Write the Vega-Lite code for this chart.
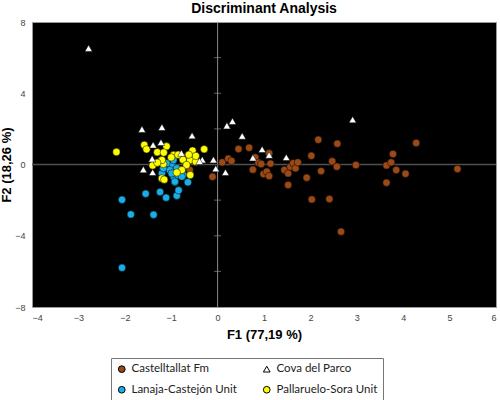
{
  "$schema": "https://vega.github.io/schema/vega-lite/v6.json",
  "width": 464,
  "height": 285,
  "autosize": {"type": "none"},
  "padding": {"left": 32, "top": 22, "right": 4, "bottom": 93},
  "background": "white",
  "title": {"text": "Discriminant Analysis", "font": "Liberation Sans", "fontSize": 14, "fontWeight": "bold", "color": "#000", "offset": 6, "dy": 4, "anchor": "middle"},
  "config": {"view": {"fill": "black", "stroke": "#999"}},
  "datasets": {
    "pts": [
      {"g": "Castelltallat Fm", "x": -0.11, "y": -0.69},
      {"g": "Castelltallat Fm", "x": 0.10, "y": 0.12},
      {"g": "Castelltallat Fm", "x": 0.23, "y": 0.33},
      {"g": "Castelltallat Fm", "x": 0.30, "y": 0.20},
      {"g": "Castelltallat Fm", "x": 0.45, "y": 0.87},
      {"g": "Castelltallat Fm", "x": 0.68, "y": 0.94},
      {"g": "Castelltallat Fm", "x": 0.76, "y": -0.29},
      {"g": "Castelltallat Fm", "x": 0.81, "y": 0.40},
      {"g": "Castelltallat Fm", "x": 0.88, "y": 0.10},
      {"g": "Castelltallat Fm", "x": 0.94, "y": 0.03},
      {"g": "Castelltallat Fm", "x": 0.99, "y": -0.53},
      {"g": "Castelltallat Fm", "x": 1.06, "y": -0.40},
      {"g": "Castelltallat Fm", "x": 1.11, "y": -0.65},
      {"g": "Castelltallat Fm", "x": 1.11, "y": 0.63},
      {"g": "Castelltallat Fm", "x": 1.14, "y": 0.05},
      {"g": "Castelltallat Fm", "x": 1.44, "y": -0.31},
      {"g": "Castelltallat Fm", "x": 1.52, "y": -0.50},
      {"g": "Castelltallat Fm", "x": 1.52, "y": -1.15},
      {"g": "Castelltallat Fm", "x": 1.57, "y": -0.12},
      {"g": "Castelltallat Fm", "x": 1.63, "y": 0.07},
      {"g": "Castelltallat Fm", "x": 1.68, "y": -0.21},
      {"g": "Castelltallat Fm", "x": 1.73, "y": 0.12},
      {"g": "Castelltallat Fm", "x": 1.92, "y": -0.74},
      {"g": "Castelltallat Fm", "x": 2.02, "y": 0.49},
      {"g": "Castelltallat Fm", "x": 2.03, "y": -1.96},
      {"g": "Castelltallat Fm", "x": 2.17, "y": 1.39},
      {"g": "Castelltallat Fm", "x": 2.23, "y": -0.37},
      {"g": "Castelltallat Fm", "x": 2.41, "y": -1.94},
      {"g": "Castelltallat Fm", "x": 2.47, "y": 0.18},
      {"g": "Castelltallat Fm", "x": 2.57, "y": -0.12},
      {"g": "Castelltallat Fm", "x": 2.58, "y": 1.17},
      {"g": "Castelltallat Fm", "x": 2.66, "y": -3.77},
      {"g": "Castelltallat Fm", "x": 2.98, "y": -0.03},
      {"g": "Castelltallat Fm", "x": 3.64, "y": -0.05},
      {"g": "Castelltallat Fm", "x": 3.64, "y": -1.02},
      {"g": "Castelltallat Fm", "x": 3.74, "y": 0.12},
      {"g": "Castelltallat Fm", "x": 3.78, "y": 0.59},
      {"g": "Castelltallat Fm", "x": 3.85, "y": -0.31},
      {"g": "Castelltallat Fm", "x": 4.05, "y": -0.52},
      {"g": "Castelltallat Fm", "x": 4.28, "y": 1.21},
      {"g": "Castelltallat Fm", "x": 5.17, "y": -0.25},
      {"g": "Castelltallat Fm", "x": -0.67, "y": 0.44},
      {"g": "Castelltallat Fm", "x": -0.65, "y": 0.15},
      {"g": "Castelltallat Fm", "x": -0.60, "y": -0.30},
      {"g": "Lanaja-Castejón Unit", "x": -2.06, "y": -1.98},
      {"g": "Lanaja-Castejón Unit", "x": -1.87, "y": -2.80},
      {"g": "Lanaja-Castejón Unit", "x": -1.38, "y": -2.82},
      {"g": "Lanaja-Castejón Unit", "x": -2.06, "y": -5.80},
      {"g": "Lanaja-Castejón Unit", "x": -1.55, "y": -1.64},
      {"g": "Lanaja-Castejón Unit", "x": -1.24, "y": -1.54},
      {"g": "Lanaja-Castejón Unit", "x": -1.11, "y": -1.86},
      {"g": "Lanaja-Castejón Unit", "x": -0.88, "y": -1.75},
      {"g": "Lanaja-Castejón Unit", "x": -0.84, "y": -1.45},
      {"g": "Lanaja-Castejón Unit", "x": -0.64, "y": -1.00},
      {"g": "Lanaja-Castejón Unit", "x": -0.92, "y": -1.00},
      {"g": "Lanaja-Castejón Unit", "x": -0.95, "y": -0.68},
      {"g": "Lanaja-Castejón Unit", "x": -1.20, "y": -0.50},
      {"g": "Lanaja-Castejón Unit", "x": -0.74, "y": -0.59},
      {"g": "Lanaja-Castejón Unit", "x": -0.99, "y": -0.03},
      {"g": "Lanaja-Castejón Unit", "x": -0.88, "y": -0.21},
      {"g": "Lanaja-Castejón Unit", "x": -1.03, "y": -0.31},
      {"g": "Lanaja-Castejón Unit", "x": -0.92, "y": -0.96},
      {"g": "Lanaja-Castejón Unit", "x": -0.85, "y": -0.59},
      {"g": "Lanaja-Castejón Unit", "x": -1.10, "y": 0.07},
      {"g": "Lanaja-Castejón Unit", "x": -0.99, "y": -0.50},
      {"g": "Lanaja-Castejón Unit", "x": -0.77, "y": -0.68},
      {"g": "Lanaja-Castejón Unit", "x": -1.17, "y": -0.21},
      {"g": "Lanaja-Castejón Unit", "x": -0.95, "y": 0.25},
      {"g": "Pallaruelo-Sora Unit", "x": -2.18, "y": 0.70},
      {"g": "Pallaruelo-Sora Unit", "x": -1.58, "y": 1.10},
      {"g": "Pallaruelo-Sora Unit", "x": -1.53, "y": 0.85},
      {"g": "Pallaruelo-Sora Unit", "x": -1.30, "y": 0.69},
      {"g": "Pallaruelo-Sora Unit", "x": -1.10, "y": 1.02},
      {"g": "Pallaruelo-Sora Unit", "x": -1.16, "y": 0.67},
      {"g": "Pallaruelo-Sora Unit", "x": -0.95, "y": 0.53},
      {"g": "Pallaruelo-Sora Unit", "x": -0.54, "y": 0.78},
      {"g": "Pallaruelo-Sora Unit", "x": -0.29, "y": 0.86},
      {"g": "Pallaruelo-Sora Unit", "x": -0.75, "y": 0.27},
      {"g": "Pallaruelo-Sora Unit", "x": -0.59, "y": 0.25},
      {"g": "Pallaruelo-Sora Unit", "x": -0.47, "y": 0.16},
      {"g": "Pallaruelo-Sora Unit", "x": -0.47, "y": 0.48},
      {"g": "Pallaruelo-Sora Unit", "x": -1.40, "y": -0.05},
      {"g": "Pallaruelo-Sora Unit", "x": -1.24, "y": 0.16},
      {"g": "Pallaruelo-Sora Unit", "x": -1.17, "y": 0.03},
      {"g": "Pallaruelo-Sora Unit", "x": -1.20, "y": 0.25},
      {"g": "Pallaruelo-Sora Unit", "x": -1.30, "y": 0.10},
      {"g": "Pallaruelo-Sora Unit", "x": -0.67, "y": -0.03},
      {"g": "Pallaruelo-Sora Unit", "x": -0.77, "y": -0.31},
      {"g": "Pallaruelo-Sora Unit", "x": -0.88, "y": -0.45},
      {"g": "Pallaruelo-Sora Unit", "x": -1.20, "y": -0.78},
      {"g": "Pallaruelo-Sora Unit", "x": -1.15, "y": -0.85},
      {"g": "Pallaruelo-Sora Unit", "x": -0.59, "y": -0.59},
      {"g": "Pallaruelo-Sora Unit", "x": -1.00, "y": 0.40},
      {"g": "Pallaruelo-Sora Unit", "x": -0.85, "y": 0.55},
      {"g": "Pallaruelo-Sora Unit", "x": -0.62, "y": 0.55},
      {"g": "Cova del Parco", "x": -2.78, "y": 6.53},
      {"g": "Cova del Parco", "x": -1.63, "y": 1.98},
      {"g": "Cova del Parco", "x": -1.20, "y": 2.09},
      {"g": "Cova del Parco", "x": -0.55, "y": 1.62},
      {"g": "Cova del Parco", "x": 0.20, "y": 2.18},
      {"g": "Cova del Parco", "x": 0.32, "y": 2.43},
      {"g": "Cova del Parco", "x": 0.53, "y": 1.60},
      {"g": "Cova del Parco", "x": -1.39, "y": 1.10},
      {"g": "Cova del Parco", "x": -1.22, "y": 1.24},
      {"g": "Cova del Parco", "x": -0.78, "y": 0.64},
      {"g": "Cova del Parco", "x": -1.41, "y": 0.32},
      {"g": "Cova del Parco", "x": -0.33, "y": 0.27},
      {"g": "Cova del Parco", "x": -0.09, "y": 0.27},
      {"g": "Cova del Parco", "x": -0.39, "y": 0.18},
      {"g": "Cova del Parco", "x": -1.60, "y": -0.28},
      {"g": "Cova del Parco", "x": -1.40, "y": -0.44},
      {"g": "Cova del Parco", "x": -0.04, "y": -0.23},
      {"g": "Cova del Parco", "x": 0.17, "y": -0.44},
      {"g": "Cova del Parco", "x": 0.96, "y": 0.85},
      {"g": "Cova del Parco", "x": 0.76, "y": 0.38},
      {"g": "Cova del Parco", "x": 1.11, "y": 0.53},
      {"g": "Cova del Parco", "x": 1.48, "y": 0.40},
      {"g": "Cova del Parco", "x": 2.91, "y": 2.52}
    ],
    "yticks": [{"v": -6}, {"v": -4}, {"v": -2}, {"v": 2}, {"v": 4}, {"v": 6}]
  },
  "layer": [
    {
      "data": {"values": [{"z": 0}]},
      "mark": {"type": "rule", "color": "#8a8a8a", "strokeWidth": 1},
      "encoding": {"x": {"field": "z", "type": "quantitative", "scale": {"domain": [-4, 6]}}}
    },
    {
      "data": {"values": [{"z": 0}]},
      "mark": {"type": "rule", "color": "#505050", "strokeWidth": 1.5},
      "encoding": {"y": {"field": "z", "type": "quantitative", "scale": {"domain": [-8, 8]}}}
    },
    {
      "data": {"name": "yticks"},
      "transform": [{"calculate": "0", "as": "zx"}],
      "mark": {"type": "tick", "orient": "horizontal", "color": "#8a8a8a", "size": 7, "thickness": 1},
      "encoding": {
        "x": {"field": "zx", "type": "quantitative"},
        "y": {"field": "v", "type": "quantitative"}
      }
    },
    {
      "data": {"name": "pts"},
      "mark": {"type": "point", "filled": true, "opacity": 1, "stroke": "black", "strokeWidth": 0.5},
      "encoding": {
        "x": {"field": "x", "type": "quantitative", "scale": {"domain": [-4, 6], "nice": false},
          "axis": {"title": "F1 (77,19 %)", "values": [-4, -3, -2, -1, 0, 1, 2, 3, 4, 5, 6], "domain": false, "ticks": false, "grid": false, "labelFont": "Liberation Sans", "labelFontSize": 9, "labelColor": "#444", "labelPadding": 6, "titleFont": "Liberation Sans", "titleFontSize": 13, "titleFontWeight": "bold", "titleColor": "#000", "titlePadding": 6, "labelOverlap": false}},
        "y": {"field": "y", "type": "quantitative", "scale": {"domain": [-8, 8], "nice": false},
          "axis": {"title": "F2 (18,26 %)", "values": [-8, -6, -4, -2, 0, 2, 4, 6, 8], "domain": false, "ticks": false, "grid": false, "labelFont": "Liberation Sans", "labelFontSize": 9, "labelColor": "#444", "labelPadding": 7, "titleFont": "Liberation Sans", "titleFontSize": 13, "titleFontWeight": "bold", "titleColor": "#000", "titlePadding": 1, "labelOverlap": false}},
        "color": {"field": "g", "type": "nominal",
          "scale": {"domain": ["Castelltallat Fm", "Cova del Parco", "Lanaja-Castejón Unit", "Pallaruelo-Sora Unit"], "range": ["#9b4a17", "#ffffff", "#19aee6", "#ffff00"]},
          "legend": {"title": null, "orient": "none", "legendX": 79, "legendY": 336, "columns": 2, "direction": "horizontal", "columnPadding": 24, "rowPadding": 8, "padding": 5, "strokeColor": "#777", "fillColor": "white", "labelFont": "Lato", "labelFontSize": 11.5, "labelColor": "#222", "labelOffset": 4, "symbolSize": 45, "symbolStrokeColor": "black", "symbolStrokeWidth": 1, "gridAlign": "all", "labelLimit": 200}},
        "shape": {"field": "g", "type": "nominal",
          "scale": {"domain": ["Castelltallat Fm", "Cova del Parco", "Lanaja-Castejón Unit", "Pallaruelo-Sora Unit"], "range": ["circle", "triangle-up", "circle", "circle"]}},
        "size": {"value": 55}
      }
    }
  ]
}
